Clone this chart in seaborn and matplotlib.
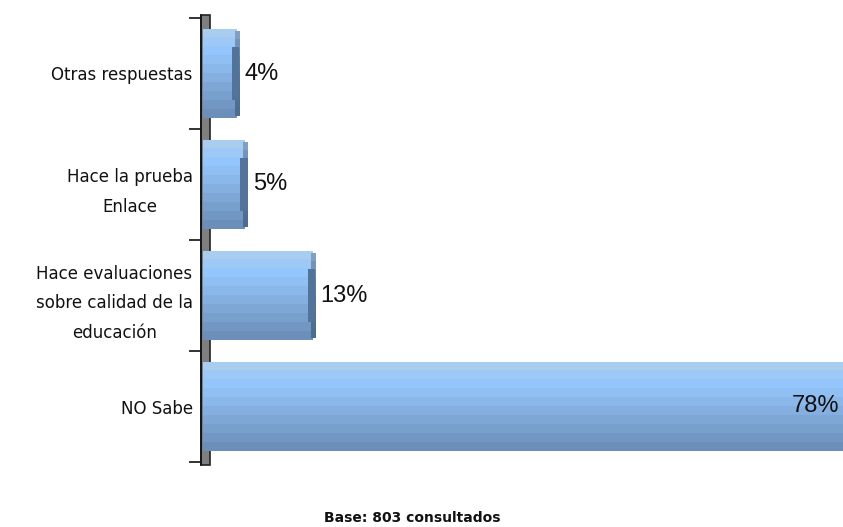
import numpy as np
import pandas as pd
import matplotlib
matplotlib.use("Agg")
import matplotlib.pyplot as plt
from matplotlib.colors import LinearSegmentedColormap
from matplotlib.patches import Rectangle
import seaborn as sns

categories = ["Otras respuestas", "Hace la prueba\nEnlace",
              "Hace evaluaciones\nsobre calidad de la\neducación", "NO Sabe"]
values = [4, 5, 13, 78]
value_labels = ["4%", "5%", "13%", "78%"]
footnote = "Base: 803 consultados"

sns.set_theme(style="white")
plt.rcParams["font.family"] = ["DejaVu Sans"]

df = pd.DataFrame({"cat": categories, "val": values})

fig = plt.figure(figsize=(8.43, 5.27), dpi=100)
ax = fig.add_axes([201 / 843, 65 / 527, 642 / 843, 444 / 527])

sns.barplot(data=df, y="cat", x="val", orient="h", width=0.81,
            color="#8fb9e8", edgecolor="none", ax=ax, zorder=2)

XMIN, XMAX = -0.25, 76.2

# stepped vertical gradient for the cylinder-like bars
cmap = LinearSegmentedColormap.from_list(
    "bar", ["#a9cdef", "#95c7fd", "#8dbcef", "#82acdc", "#779fcb", "#6b8fb8"])
cap_cmap = LinearSegmentedColormap.from_list(
    "cap", ["#7f9fc4", "#5b7fa8", "#52739a", "#4d6c92"])
grad = np.linspace(0, 1, 10).reshape(-1, 1)

for p in list(ax.patches):
    x0, y0, w, h = p.get_x(), p.get_y(), p.get_width(), p.get_height()
    im = ax.imshow(grad, cmap=cmap, aspect="auto", interpolation="nearest",
                   extent=[x0, x0 + w, y0 + h, y0], zorder=2.5, origin="upper")
    im.set_clip_path(p)
    end = x0 + w
    if end + 0.4 <= XMAX:
        # darker rim at the bar end, wider in the middle
        ax.imshow(grad, cmap=cap_cmap, aspect="auto", interpolation="nearest",
                  extent=[end - 0.2, end + 0.3, y0 + h * 0.97, y0 + h * 0.03],
                  zorder=3, origin="upper")
        ax.add_patch(Rectangle((end - 0.55, y0 + h * 0.2), 0.85, h * 0.6,
                               facecolor="#52739a", edgecolor="none",
                               zorder=3.1))

# grey wall on the left, partly hidden behind the bars
ax.add_patch(Rectangle((XMIN, -0.53), 1.1, 4.06, facecolor="#7f7f7f",
                       edgecolor="#222222", linewidth=1.2, zorder=1.5,
                       clip_on=False))

for v, lab, yi in zip(values, value_labels, range(len(values))):
    if v > XMAX - 6:
        ax.text(min(v, XMAX) - 0.45, yi, lab, ha="right", va="center",
                fontsize=17, family="Liberation Sans", color="#111111",
                zorder=5)
    else:
        ax.text(v + 0.95, yi, lab, ha="left", va="center", fontsize=17,
                family="Liberation Sans", color="#111111", zorder=5)

ax.set_xlim(XMIN, XMAX)
ax.set_ylim(3.5, -0.5)
ax.set_xlabel("")
ax.set_ylabel("")
ax.set_xticks([])

for s in ["top", "right", "bottom"]:
    ax.spines[s].set_visible(False)
ax.spines["left"].set_color("#111111")
ax.spines["left"].set_linewidth(1.2)
ax.spines["left"].set_bounds(-0.53, 3.53)

ax.set_yticks(range(len(categories)))
ax.set_yticklabels(categories, fontsize=12, color="#111111",
                   multialignment="center", linespacing=1.85)
ax.set_yticks([-0.5, 0.5, 1.5, 2.5, 3.5], minor=True)
ax.tick_params(axis="y", which="major", length=0, pad=6)
ax.tick_params(axis="y", which="minor", length=9, width=1.2,
               color="#111111", left=True, direction="out")

fig.text(0.489, 0.017, footnote, ha="center", va="center",
         fontsize=10, fontweight="bold", color="#111111")

fig.savefig("out.png", dpi=100, facecolor="white")
